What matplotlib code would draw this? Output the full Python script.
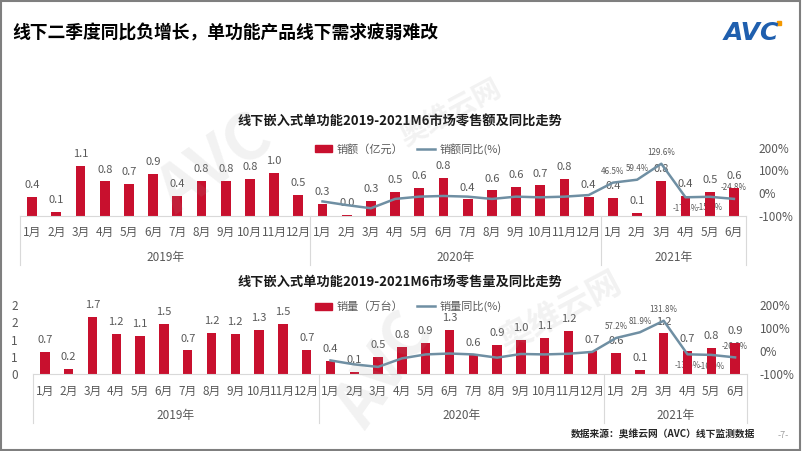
# -*- coding: utf-8 -*-
import numpy as np
import matplotlib
matplotlib.use('Agg')
import matplotlib.pyplot as plt
from matplotlib.patches import Patch, Rectangle
from matplotlib.lines import Line2D

plt.rcParams['font.family'] = ['Noto Sans CJK SC', 'DejaVu Sans']

# Datos
meses = ['1月', '2月', '3月', '4月', '5月', '6月', '7月', '8月', '9月', '10月', '11月', '12月',
         '1月', '2月', '3月', '4月', '5月', '6月', '7月', '8月', '9月', '10月', '11月', '12月',
         '1月', '2月', '3月', '4月', '5月', '6月']
anios = ['2019年', '2020年', '2021年']
meses_por_anio = [12, 12, 6]

# Ventas en valor (亿元)
ventas_valor = [0.42, 0.09, 1.12, 0.77, 0.72, 0.94, 0.44, 0.78, 0.78, 0.82, 0.96, 0.47,
                0.27, 0.02, 0.33, 0.54, 0.62, 0.84, 0.37, 0.57, 0.64, 0.68, 0.82, 0.43,
                0.40, 0.06, 0.78, 0.44, 0.53, 0.63]
valor_yoy = [np.nan] * 12 + [-36, -52, -66, -25, -15, -12, -15, -25, -15, -18, -15, -8,
                             46.5, 59.4, 129.6, -17.8, -15.6, -24.8]

# Ventas en volumen (万台)
ventas_volumen = [0.65, 0.16, 1.66, 1.17, 1.10, 1.46, 0.69, 1.19, 1.17, 1.29, 1.46, 0.71,
                  0.39, 0.08, 0.50, 0.79, 0.91, 1.27, 0.56, 0.86, 1.00, 1.06, 1.25, 0.66,
                  0.62, 0.12, 1.18, 0.67, 0.76, 0.91]
volumen_yoy = [np.nan] * 12 + [-40, -57, -68, -31, -14, -10, -14, -28, -12, -14, -11, -3,
                               57.2, 81.9, 131.8, -13.5, -16.0, -26.8]

# posicion de etiquetas del %, solo 2021
pos_etiquetas = ['arriba', 'arriba', 'arriba', 'abajo', 'abajo', 'arriba']

ROJO = '#C8102E'
AZUL_GRIS = '#6F8FA3'
GRIS_TEXTO = '#595959'
GRIS_LINEA = '#D9D9D9'

W, H = 802, 451
fig = plt.figure(figsize=(W / 100, H / 100), dpi=100)


def ejes_px(x0, y_top, x1, y_bot):
    return fig.add_axes([x0 / W, 1 - y_bot / H, (x1 - x0) / W, (y_bot - y_top) / H])


def grafico(rect, valores, yoy, lim_izq, nombre_barra, nombre_linea, titulo,
            y_titulo, y_leyenda, ticks_izq=None, etiquetas_izq=None):
    ax = ejes_px(*rect)
    ax.set_facecolor('none')
    alto = rect[3] - rect[1]
    n = len(valores)
    x = np.arange(n)
    ax.bar(x, valores, width=0.4, color=ROJO, zorder=2)
    ax.set_xlim(-0.5, n - 0.5)
    ax.set_ylim(*lim_izq)
    for s in ['top', 'right', 'left']:
        ax.spines[s].set_visible(False)
    ax.spines['bottom'].set_color(GRIS_LINEA)
    ax.set_xticks([])
    if ticks_izq is not None:
        ax.set_yticks(ticks_izq)
        ax.set_yticklabels(etiquetas_izq)
        ax.tick_params(axis='y', length=0, pad=11, labelsize=8.5, labelcolor=GRIS_TEXTO)
    else:
        ax.set_yticks([])

    # etiquetas de barras
    for xi, v in zip(x, valores):
        ax.annotate(f'{v:.1f}', (xi, v), xytext=(0, 8.5), textcoords='offset points',
                    ha='center', va='center', fontsize=8, color=GRIS_TEXTO, zorder=3)

    # eje de categorias (meses / anios)
    tr = ax.get_xaxis_transform()
    for xi, m in zip(x, meses):
        ax.text(xi, -16.7 / alto, m, transform=tr, ha='center', va='center',
                fontsize=8.5, color=GRIS_TEXTO)
    inicio = -0.5
    ax.plot([inicio, inicio], [0, -49 / alto], transform=tr, clip_on=False,
            color=GRIS_LINEA, lw=0.8)
    for anio, k in zip(anios, meses_por_anio):
        fin = inicio + k
        ax.plot([fin, fin], [0, -49 / alto], transform=tr, clip_on=False,
                color=GRIS_LINEA, lw=0.8)
        ax.text((inicio + fin) / 2, -41 / alto, anio, transform=tr, ha='center',
                va='center', fontsize=8.5, color=GRIS_TEXTO)
        inicio = fin

    # eje derecho: crecimiento interanual
    ax2 = ax.twinx()
    ax2.set_ylim(-100, 200)
    ax2.set_yticks([-100, 0, 100, 200])
    ax2.set_yticklabels(['-100%', '0%', '100%', '200%'])
    ax2.tick_params(axis='y', length=0, pad=9, labelsize=8.5, labelcolor=GRIS_TEXTO)
    for s in ax2.spines.values():
        s.set_visible(False)
    ax2.plot(x, yoy, color=AZUL_GRIS, lw=1.8, zorder=3)

    for xi, v, p in zip(x[-6:], yoy[-6:], pos_etiquetas):
        dy = 8 if p == 'arriba' else -8
        ax.annotate(f'{v:.1f}%', xy=(xi, v), xycoords=ax2.transData, xytext=(0, dy),
                    textcoords='offset points', ha='center', va='center',
                    fontsize=5.8, color=GRIS_TEXTO, zorder=1.5)

    handles = [Patch(color=ROJO), Line2D([], [], color=AZUL_GRIS, lw=1.8)]
    ax2.legend(handles, [nombre_barra, nombre_linea], loc='center',
               bbox_to_anchor=(408 / W, 1 - y_leyenda / H), bbox_transform=fig.transFigure,
               ncol=2, frameon=False, fontsize=8, handlelength=1.6, handleheight=0.6,
               columnspacing=1.2, handletextpad=0.4, labelcolor=GRIS_TEXTO)

    fig.text(400 / W, 1 - y_titulo / H, titulo, ha='center', va='center',
             fontsize=9.5, fontweight='bold', color='#1A1A1A')
    return ax


# marca de agua
for (xw, yw, txt, sz, rot) in [(215, 165, 'AVC', 46, 35), (450, 112, '奥维云网', 20, 28),
                               (385, 370, 'AVC', 46, 55), (560, 312, '奥维云网', 24, 28)]:
    fig.text(xw / W, 1 - yw / H, txt, ha='center', va='center', fontsize=sz,
             fontweight='bold', rotation=rot, color='#9A9A9A', alpha=0.13, zorder=5)

grafico((20, 147.7, 746, 216), ventas_valor, valor_yoy, (0, 1.52),
        '销额（亿元）', '销额同比(%)',
        '线下嵌入式单功能2019-2021M6市场零售额及同比走势', 121.5, 149)

grafico((33, 305, 747, 374.3), ventas_volumen, volumen_yoy, (0, 2),
        '销量（万台）', '销量同比(%)',
        '线下嵌入式单功能2019-2021M6市场零售量及同比走势', 281.5, 306.5,
        ticks_izq=[0, 0.5, 1, 1.5, 2], etiquetas_izq=['0', '1', '1', '2', '2'])

# titulo principal
fig.text(12 / W, 1 - 33 / H, '线下二季度同比负增长，单功能产品线下需求疲弱难改',
         ha='left', va='center', fontsize=12.8, fontweight='bold', color='#000000')

# logo
fig.text(751 / W, 1 - 33 / H, 'AVC', ha='center', va='center', fontsize=18,
         fontweight='bold', fontstyle='italic', color='#1F5FAE', family='DejaVu Sans')
fig.patches.append(Rectangle((777 / W, 1 - 25 / H), 4 / W, 4 / H, color='#F39800',
                             transform=fig.transFigure, figure=fig))

# fuente
fig.text(755 / W, 1 - 435 / H, '数据来源：奥维云网（AVC）线下监测数据', ha='right',
         va='center', fontsize=7, fontweight='bold', color='#262626')
fig.text(783 / W, 1 - 435 / H, '-7-', ha='center', va='center', fontsize=6.5,
         color='#A0A0A0')

# marco
fig.patches.append(Rectangle((0.001, 0.002), 0.997, 0.996, fill=False, edgecolor='#7F7F7F',
                             lw=1.5, transform=fig.transFigure, figure=fig))

fig.savefig('out.png', dpi=100)
